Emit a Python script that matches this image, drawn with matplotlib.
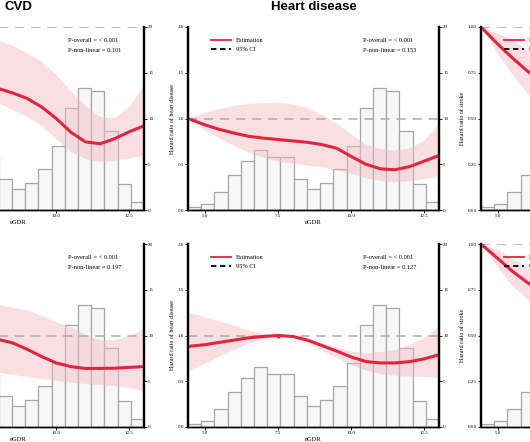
import numpy as np
import matplotlib.pyplot as plt
from matplotlib.lines import Line2D

plt.rcParams['font.family'] = ['Liberation Serif', 'DejaVu Serif']

# eGDR grid where the spline estimates were read
egdr = [4.42, 5.0, 5.5, 6.0, 6.5, 7.0, 7.5, 8.0, 8.5, 9.0, 9.5, 10.0, 10.5, 11.0, 11.5, 12.0, 12.5, 13.0]

# histogram of eGDR (percent of participants per bin)
hist_pct = [0.3, 0.66, 2.0, 3.8, 5.4, 6.6, 5.8, 5.75, 3.4, 2.3, 2.9, 4.45, 7.0, 11.2, 13.3, 13.0, 8.65, 2.8, 0.9]
bin_edges = np.linspace(4.42, 13.0, len(hist_pct) + 1)

# top row, CVD
cvd1_est = [1.0, 0.93, 0.87, 0.82, 0.77, 0.73, 0.70, 0.665, 0.64, 0.61, 0.563, 0.50, 0.425, 0.372, 0.362, 0.39, 0.428, 0.46]
cvd1_hi = [1.0, 1.06, 1.10, 1.12, 1.10, 1.05, 0.99, 0.93, 0.90, 0.86, 0.81, 0.74, 0.65, 0.57, 0.51, 0.505, 0.57, 0.69]
cvd1_lo = [1.0, 0.84, 0.75, 0.69, 0.65, 0.62, 0.60, 0.585, 0.55, 0.51, 0.46, 0.39, 0.32, 0.28, 0.265, 0.272, 0.285, 0.30]

# top row, heart disease
hd1_est = [1.0, 0.93, 0.88, 0.84, 0.805, 0.785, 0.77, 0.755, 0.74, 0.715, 0.675, 0.585, 0.50, 0.45, 0.44, 0.475, 0.535, 0.595]
hd1_hi = [1.0, 1.07, 1.11, 1.145, 1.165, 1.175, 1.175, 1.16, 1.12, 1.04, 0.95, 0.83, 0.72, 0.67, 0.655, 0.68, 0.77, 0.95]
hd1_lo = [1.0, 0.87, 0.79, 0.70, 0.63, 0.575, 0.535, 0.51, 0.49, 0.47, 0.44, 0.40, 0.35, 0.32, 0.31, 0.32, 0.345, 0.37]

# top row, stroke
st1_est = [1.0, 0.905, 0.83, 0.76, 0.70, 0.65, 0.61, 0.58, 0.56, 0.53, 0.49, 0.45, 0.42, 0.40, 0.40, 0.41, 0.43, 0.45]
st1_hi = [1.0, 0.965, 0.93, 0.875, 0.83, 0.79, 0.76, 0.74, 0.72, 0.70, 0.67, 0.64, 0.61, 0.60, 0.61, 0.64, 0.68, 0.72]
st1_lo = [1.0, 0.85, 0.74, 0.64, 0.57, 0.52, 0.48, 0.45, 0.43, 0.40, 0.36, 0.32, 0.29, 0.27, 0.26, 0.26, 0.27, 0.28]

# bottom row, CVD
cvd2_est = [0.90, 0.92, 0.94, 0.95, 0.96, 0.965, 0.965, 0.958, 0.92, 0.85, 0.77, 0.70, 0.66, 0.64, 0.64, 0.643, 0.652, 0.66]
cvd2_hi = [1.20, 1.22, 1.25, 1.28, 1.31, 1.33, 1.345, 1.34, 1.31, 1.28, 1.22, 1.15, 1.09, 1.01, 0.955, 0.955, 1.0, 1.08]
cvd2_lo = [0.62, 0.63, 0.64, 0.645, 0.645, 0.64, 0.625, 0.60, 0.575, 0.55, 0.53, 0.51, 0.49, 0.475, 0.465, 0.45, 0.43, 0.40]

# bottom row, heart disease
hd2_est = [0.88, 0.90, 0.925, 0.95, 0.975, 0.99, 1.0, 0.99, 0.95, 0.89, 0.83, 0.765, 0.715, 0.70, 0.70, 0.715, 0.745, 0.79]
hd2_hi = [1.26, 1.20, 1.16, 1.11, 1.06, 1.02, 1.0, 1.0, 0.97, 0.92, 0.87, 0.83, 0.81, 0.825, 0.85, 0.905, 0.98, 1.10]
hd2_lo = [0.61, 0.70, 0.78, 0.85, 0.92, 0.97, 1.0, 0.975, 0.92, 0.84, 0.76, 0.68, 0.62, 0.585, 0.565, 0.555, 0.55, 0.55]

# bottom row, stroke
st2_est = [1.0, 0.92, 0.85, 0.79, 0.74, 0.70, 0.67, 0.64, 0.62, 0.60, 0.57, 0.54, 0.52, 0.51, 0.51, 0.52, 0.53, 0.55]
st2_hi = [1.0, 0.97, 0.92, 0.87, 0.83, 0.80, 0.78, 0.76, 0.75, 0.74, 0.72, 0.70, 0.69, 0.69, 0.70, 0.72, 0.75, 0.78]
st2_lo = [1.0, 0.87, 0.77, 0.70, 0.64, 0.60, 0.57, 0.54, 0.51, 0.48, 0.45, 0.42, 0.40, 0.38, 0.37, 0.37, 0.37, 0.38]

RED = '#e5233f'
BAND = '#f2b8c0'


def panel(ax, est, lo, hi, ymax, ylabel, title, p_lin, ref_x=None):
    ax2 = ax.twinx()
    ax2.bar(bin_edges[:-1], hist_pct, width=np.diff(bin_edges), align='edge',
            color='#f7f7f8', edgecolor='#a6a6a6', linewidth=0.9)
    ax2.set_ylim(0, 20)
    ax2.set_yticks([0, 5, 10, 15, 20])
    ax.set_zorder(ax2.get_zorder() + 1)
    ax.patch.set_visible(False)

    ax.fill_between(egdr, lo, hi, color=BAND, alpha=0.45, linewidth=0)
    ax.axhline(1.0, color='#a9a9a9', lw=1.1, ls=(0, (6, 4.5)))
    ax.plot(egdr, est, color=RED, lw=2.2, solid_capstyle='butt')
    if ref_x is not None:
        ax.plot([ref_x], [1.0], 'o', color=RED, ms=2)

    ax.set_xlim(4.42, 13.0)
    ax.set_ylim(0, ymax)
    ax.set_xticks([5.0, 7.5, 10.0, 12.5])
    ax.set_xticklabels(['5.0', '7.5', '10.0', '12.5'])
    if ymax == 1:
        ax.set_yticks([0, 0.25, 0.5, 0.75, 1.0])
        ax.set_yticklabels(['0.00', '0.25', '0.50', '0.75', '1.00'])
    else:
        ax.set_yticks([0, 0.5, 1.0, 1.5, 2.0])
        ax.set_yticklabels(['0.0', '0.5', '1.0', '1.5', '2.0'])
    ax.set_xlabel('eGDR', fontsize=4.8, labelpad=1.5)
    ax.set_ylabel(ylabel, fontsize=4.3, labelpad=2)

    for a in (ax, ax2):
        a.tick_params(labelsize=3.6, length=2, width=0.6, pad=1)
        a.spines['top'].set_visible(False)
        a.spines['left'].set_linewidth(1.6)
        a.spines['right'].set_linewidth(1.6)
        a.spines['bottom'].set_linewidth(1.0)

    ax.text(0.698, 0.925, 'P-overall = < 0.001', transform=ax.transAxes,
            fontsize=4.6, va='center')
    ax.text(0.698, 0.874, 'P-non-linear = ' + p_lin, transform=ax.transAxes,
            fontsize=4.6, va='center')

    handles = [Line2D([], [], color=RED, lw=1.3),
               Line2D([], [], color='black', lw=1.3, ls=(0, (3, 2)))]
    ax.legend(handles, ['Estimation', '95% CI'], loc='upper left',
              bbox_to_anchor=(0.075, 0.965), frameon=False, fontsize=4.6,
              handlelength=3.1, handletextpad=0.8, labelspacing=0.55,
              borderpad=0.2)
    if title:
        ax.text(0.5, 1.11, title, transform=ax.transAxes, ha='center', va='center',
                fontsize=9.5, fontweight='bold', family=['Liberation Sans', 'DejaVu Sans'])


fig = plt.figure(figsize=(5.3, 4.42), dpi=100)
W, H = 530, 442
lefts = [-107, 188, 481]
tops = [27, 244]
w, h = 251, 183
axes = {}
for r, t in enumerate(tops):
    for c, l in enumerate(lefts):
        axes[r, c] = fig.add_axes([l / W, (H - t - h) / H, w / W, h / H])

panel(axes[0, 0], cvd1_est, cvd1_lo, cvd1_hi, 1, 'Hazard ratio of CVD', 'CVD', '0.101')
panel(axes[0, 1], hd1_est, hd1_lo, hd1_hi, 2, 'Hazard ratio of heart disease', 'Heart disease', '0.153')
panel(axes[0, 2], st1_est, st1_lo, st1_hi, 1, 'Hazard ratio of stroke', 'Stroke', '0.210')
panel(axes[1, 0], cvd2_est, cvd2_lo, cvd2_hi, 2, 'Hazard ratio of CVD', None, '0.197')
panel(axes[1, 1], hd2_est, hd2_lo, hd2_hi, 2, 'Hazard ratio of heart disease', None, '0.127', ref_x=7.5)
panel(axes[1, 2], st2_est, st2_lo, st2_hi, 1, 'Hazard ratio of stroke', None, '0.230')

fig.savefig('out.png', dpi=100)
